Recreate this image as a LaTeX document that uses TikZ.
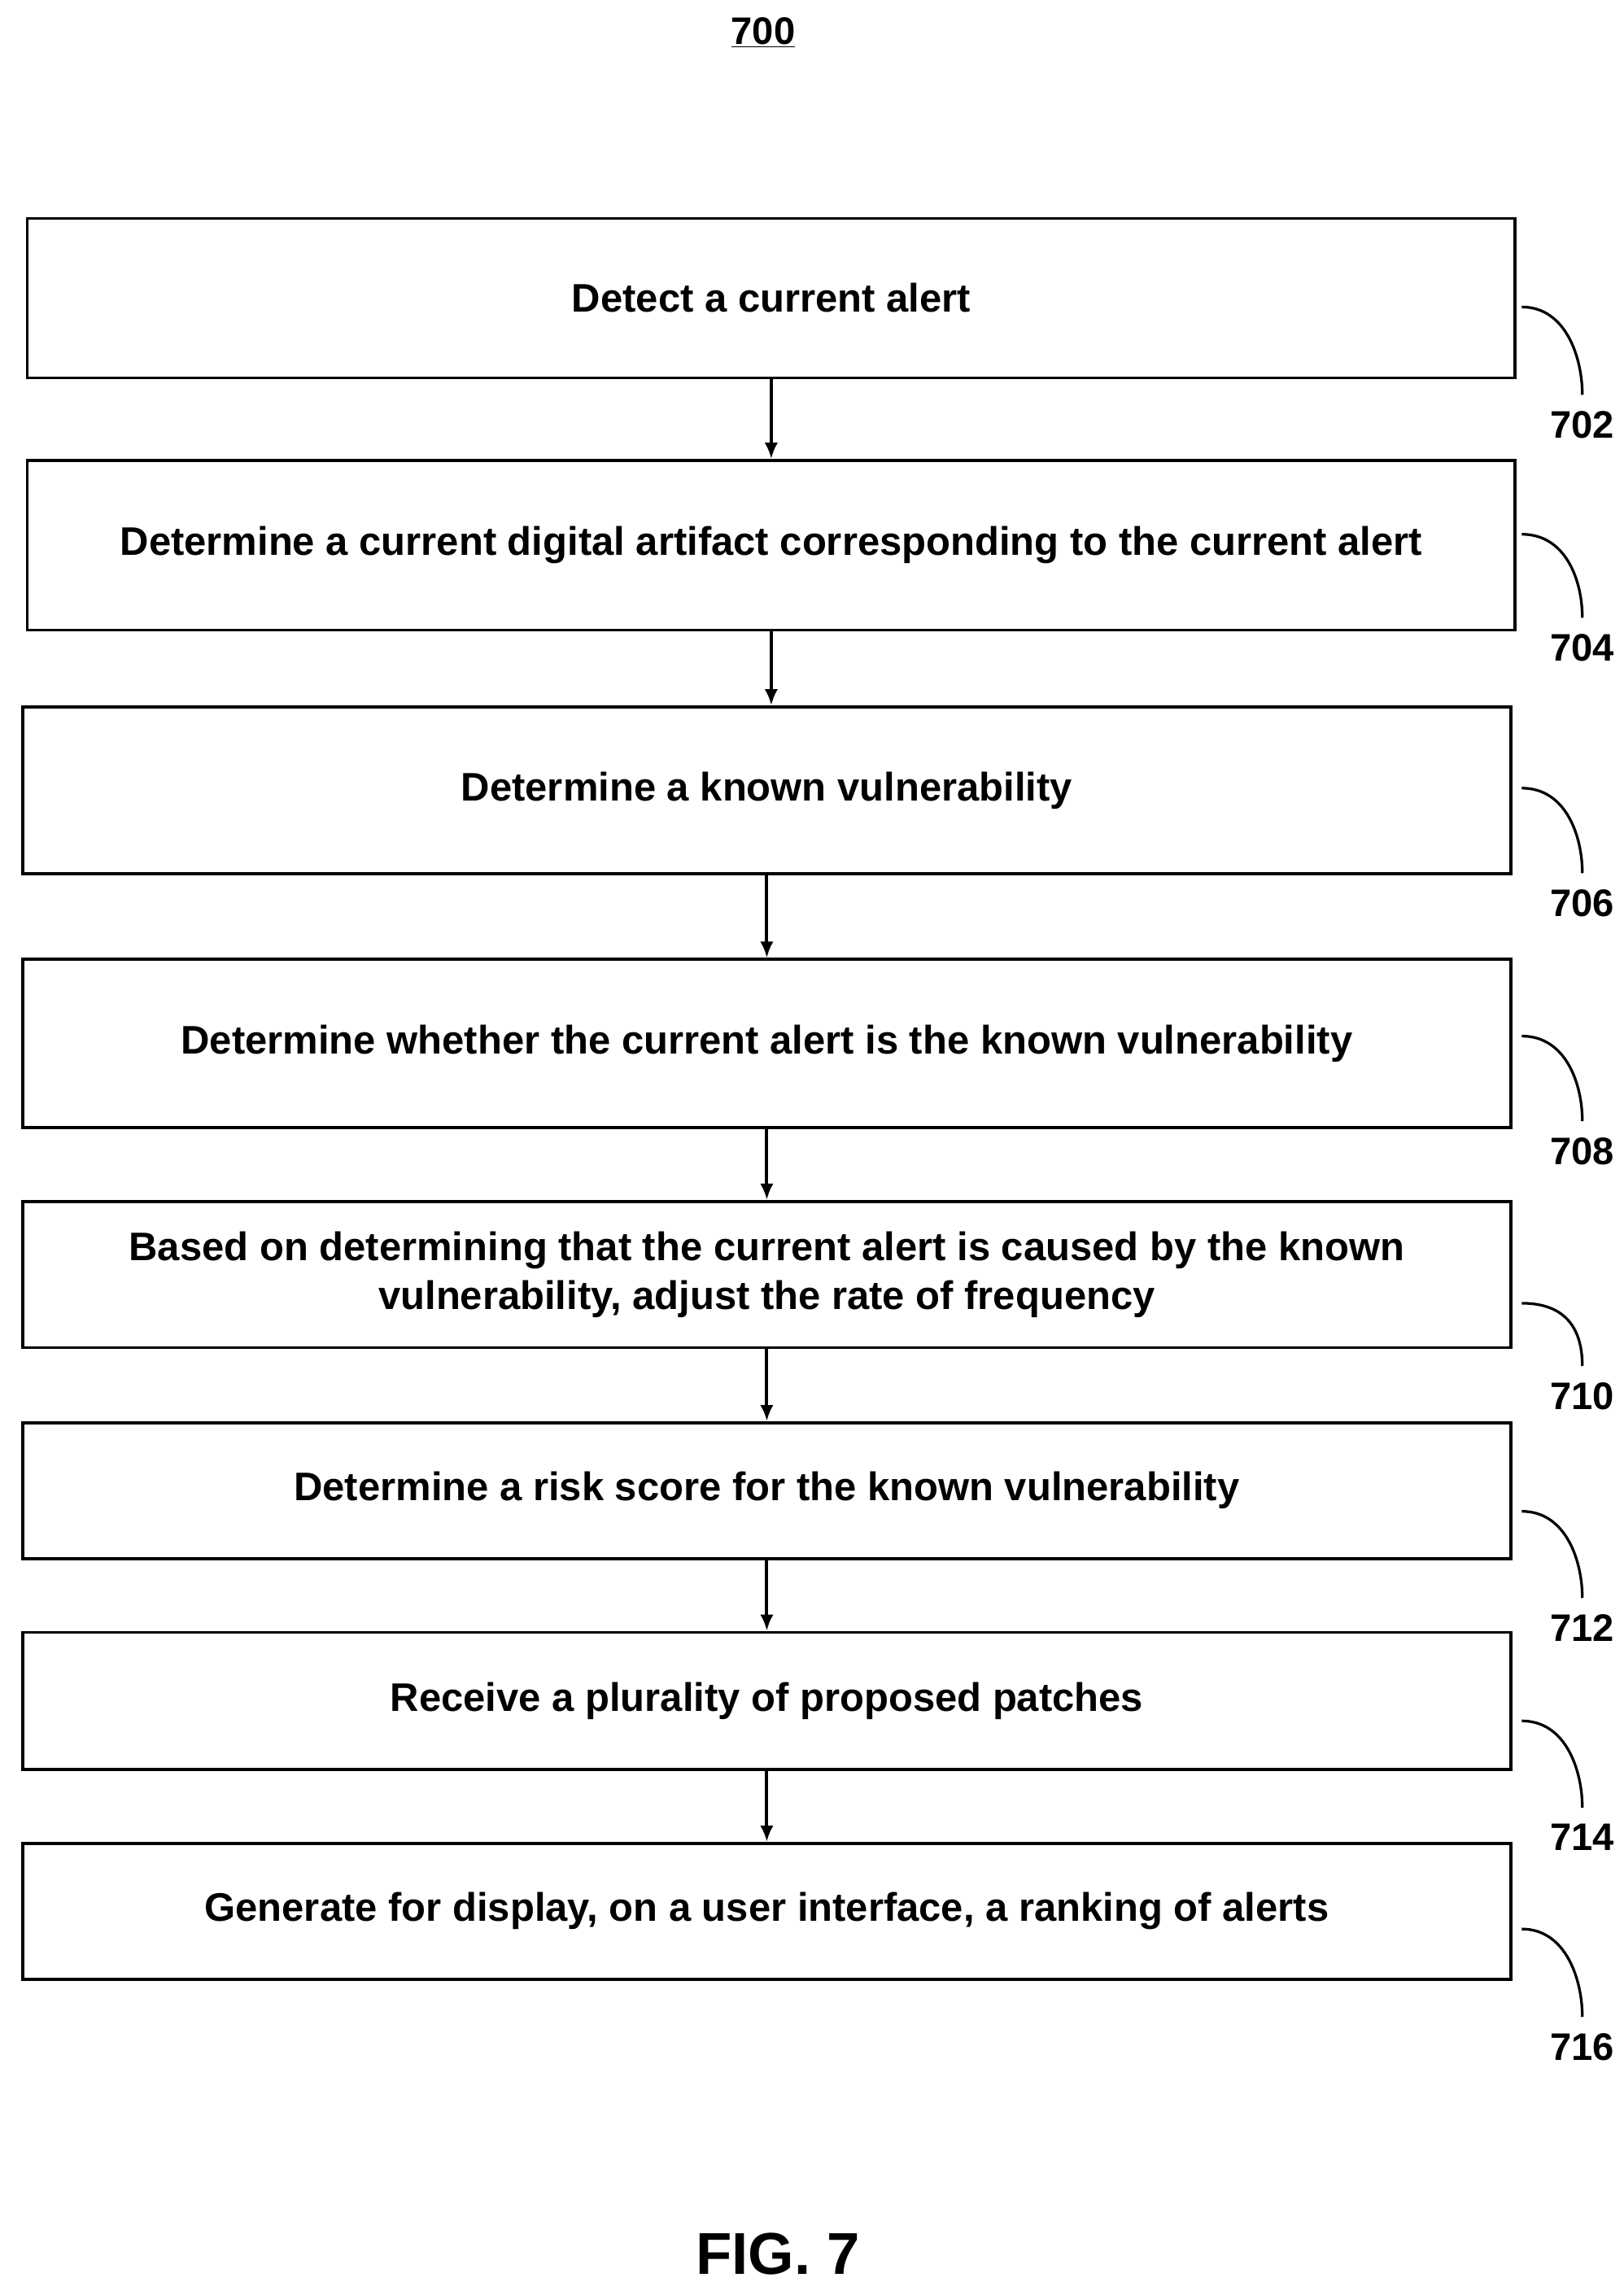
\documentclass[tikz,border=0pt]{standalone}
\usepackage{fontspec}
\setmainfont{Liberation Sans}
\usetikzlibrary{positioning,arrows.meta}
\tikzset{%
stepbox/.style={draw,line width=2pt,minimum width=1008pt,align=center,inner sep=4pt,font=\fontsize{27}{33}\selectfont\bfseries},
ref/.style={font=\fontsize{26}{30}\selectfont\bfseries,inner sep=1pt},
flow/.style={line width=2.2pt,-{Latex[length=11pt,width=9pt]}},
lead/.style={line width=1.8pt}
}
\begin{document}
\begin{tikzpicture}[x=1pt,y=-1pt]
\useasboundingbox (0,0) rectangle (1100,1555);
\node[font=\fontsize{26}{30}\selectfont\bfseries] (title) at (517,22) {\underline{700}};
% steps
\node[stepbox,minimum height=108pt] (b702) at (522.5,202) {Detect a current alert};
\node[stepbox,minimum height=115pt] (b704) at (522.5,369.5) {Determine a current digital artifact corresponding to the current alert};
\node[stepbox,minimum height=113pt] (b706) at (519.5,535.5) {Determine a known vulnerability};
\node[stepbox,minimum height=114pt] (b708) at (519.5,707) {Determine whether the current alert is the known vulnerability};
\node[stepbox,minimum height=99pt] (b710) at (519.5,863.5) {Based on determining that the current alert is caused by the known\\vulnerability, adjust the rate of frequency};
\node[stepbox,minimum height=92pt] (b712) at (519.5,1010) {Determine a risk score for the known vulnerability};
\node[stepbox,minimum height=93pt] (b714) at (519.5,1152.5) {Receive a plurality of proposed patches};
\node[stepbox,minimum height=92pt] (b716) at (519.5,1295) {Generate for display, on a user interface, a ranking of alerts};
% connectors
\foreach \a/\b in {702/704,704/706,706/708,708/710,710/712,712/714,714/716}
  \draw[flow] (b\a.south) -- (b\a.south |- b\b.north);
% reference numerals
\foreach \n/\ys/\yl in {702/208/288,704/362/439,706/534/612,708/702/780,710/883/946,712/1024/1103,714/1166/1245,716/1307/1387}
{
  \node[ref] (r\n) at (1072,\yl) {\n};
  \coordinate (s\n) at (1031,\ys);
  \draw[lead] (s\n) .. controls +(30,0) and +(0,-25) .. ([yshift=10pt]r\n.north);
}
\node[font=\fontsize{40}{46}\selectfont\bfseries] (fig) at (527,1527) {FIG. 7};
\end{tikzpicture}
\end{document}
